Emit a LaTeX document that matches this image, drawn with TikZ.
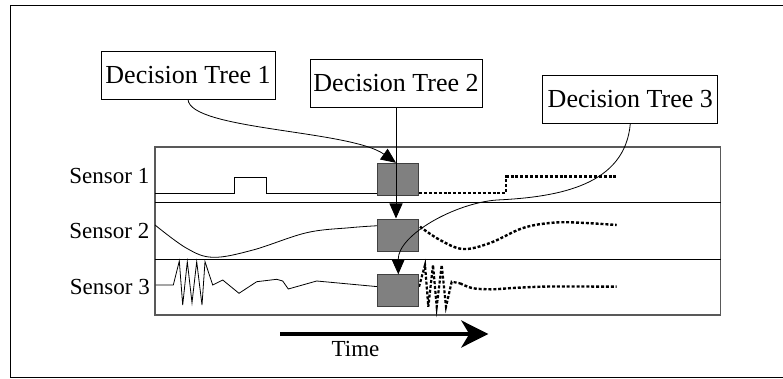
\documentclass[tikz,border=0pt]{standalone}
\usepackage{fontspec}
\setmainfont{Liberation Serif}
\usetikzlibrary{arrows.meta}
\tikzset{
  treebox/.style={draw=black, line width=0.9pt, fill=white, inner sep=0pt, minimum height=48pt, font=\fontsize{26}{30}\selectfont},
  senslabel/.style={anchor=base east, inner sep=0pt, font=\fontsize{23}{27}\selectfont},
  graybox/.style={draw=black!75, line width=1pt, fill=black!50, minimum width=40.7pt, minimum height=32pt, inner sep=0pt},
  sig/.style={line width=0.8pt, black},
  dotsig/.style={line width=2.4pt, black, dash pattern=on 3pt off 1.9pt},
  arr/.style={line width=0.8pt, -{Triangle[length=15pt,width=13pt]}},
  panelline/.style={line width=1pt, black}
}
\begin{document}
\begin{tikzpicture}[x=1pt,y=-1pt]
\useasboundingbox (0,0) rectangle (783,379);
\clip (0,0) rectangle (783,379);
% outer frame
\draw[line width=1.7pt] (10.5,5.5) rectangle (800,377.6);
% panel
\draw[line width=1.2pt, draw=black!65] (155,147) rectangle (720.7,315);
\draw[panelline] (155,203) -- (720.7,203);
\draw[panelline] (155,259) -- (720.7,259);
% sensor labels
\node[senslabel] (s1) at (149.5,184) {Sensor 1};
\node[senslabel] (s2) at (149.5,238.5) {Sensor 2};
\node[senslabel] (s3) at (150,294) {Sensor 3};
% sensor 1 signal
\draw[sig] (155,193) -- (234.3,193) -- (234.3,177.7) -- (266.3,177.7) -- (266.3,193) -- (378,193);
\draw[dotsig] (419,193) -- (506,193) -- (506,176.7) -- (616.7,176.7);
% sensor 2 signal
\draw[sig] plot[smooth, tension=0.6] coordinates {(155,225) (186.7,248.3) (213.3,257.3) (253,250) (306.7,232.7) (350,227.7) (378,225.7)};
\draw[dotsig] plot[smooth, tension=0.6] coordinates {(420,226.7) (440,240) (463,249) (490,243) (523,228) (553,222.7) (580,222.7) (616.7,225)};
% sensor 3 signal
\draw[sig] (155.7,285) -- (173.3,285) -- (179.3,261) -- (182.7,305) -- (187.3,261.7) -- (192,302.7) -- (196.7,261.7) -- (202,305) -- (205,261.7) -- (212.7,285) -- (222.7,280) -- (239,293.3) -- (256.7,281.7) -- (276.7,279.3) -- (282.7,281) -- (288.3,289) -- (316.7,281) -- (378,286.7);
\draw[dotsig, line width=2.2pt] (419,286.7) -- (425,265) -- (428.3,306.7) -- (433,265) -- (436.7,306.7) -- (441.7,265) -- (446,306.7) -- (451.7,281.7) -- (460,283.3);
\draw[dotsig] plot[smooth, tension=0.5] coordinates {(460,283.3) (473,288.3) (493,289.3) (513,288) (550,286.5) (616.7,286.7)};
% gray boxes
\node[graybox] (b1) at (398.3,179.3) {};
\node[graybox] (b2) at (398.3,235) {};
\node[graybox] (b3) at (398.3,290.8) {};
% decision trees
\node[treebox, minimum width=174pt] (dt1) at (188,75) {Decision Tree 1};
\node[treebox, minimum width=172pt] (dt2) at (396,83.3) {Decision Tree 2};
\node[treebox, minimum width=175pt] (dt3) at (630.3,99.2) {Decision Tree 3};
% arrows
\draw[arr] (dt2.south) -- (dt2.south |- b2.north);
\draw[arr] (dt1.south) .. controls (190,130) and (350,130) .. (dt2.south |- b1.north);
\draw[arr] (dt3.south) .. controls (625,185) and (560,197) .. (497,200) .. controls (455,203) and (398,235) .. (b3.north);
% time arrow
\coordinate (t0) at (280,334);
\coordinate (t1) at (488.3,334);
\draw[line width=4pt, -{Stealth[length=27pt,width=27pt,inset=8pt]}] (t0) -- (t1);
\node[anchor=base, inner sep=0pt, font=\fontsize{23}{27}\selectfont] (time) at (355.5,356.5) {Time};
\end{tikzpicture}
\end{document}
